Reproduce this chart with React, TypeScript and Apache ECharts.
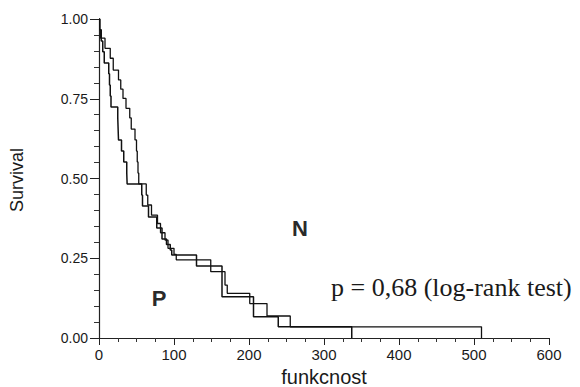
import React, { useEffect, useRef } from "react";
import * as echarts from "echarts";

// Kaplan-Meier step points: [time, survival] (survival drops at that time)
const groupPTimes = [0, 1, 3, 5, 7, 13, 14, 15, 16, 25, 25.5, 26, 30, 33, 37, 37.5, 57, 58, 66, 77, 84, 90, 95, 97, 130, 164, 206, 239, 337];
const groupPSurvival = [1.0, 0.966, 0.931, 0.897, 0.862, 0.828, 0.793, 0.759, 0.724, 0.69, 0.655, 0.621, 0.586, 0.552, 0.517, 0.483, 0.448, 0.414, 0.379, 0.345, 0.31, 0.293, 0.276, 0.26, 0.226, 0.129, 0.067, 0.035, 0];

const groupNTimes = [0, 1, 2, 8, 15, 19, 26, 29, 32, 36, 41, 43, 48, 50, 51, 52, 53, 63, 65, 70, 78, 82, 88, 92, 100, 103, 149, 168, 171, 201, 224, 255, 510];
const groupNSurvival = [1.0, 0.966, 0.94, 0.908, 0.877, 0.84, 0.809, 0.78, 0.751, 0.72, 0.69, 0.655, 0.621, 0.586, 0.552, 0.517, 0.483, 0.448, 0.417, 0.385, 0.359, 0.33, 0.307, 0.281, 0.262, 0.245, 0.208, 0.166, 0.14, 0.108, 0.069, 0.035, 0];

const xTicks = [0, 100, 200, 300, 400, 500, 600];
const yTicks = [0, 0.25, 0.5, 0.75, 1.0];

const labelN = "N";
const labelP = "P";
const pValueText = "p = 0,68 (log-rank test)";
const xTitle = "funkcnost";
const yTitle = "Survival";

export default function App() {
  const ref = useRef<HTMLDivElement>(null);
  useEffect(() => {
    if (!ref.current) return;
    const chart = echarts.init(ref.current, null, { renderer: "svg" });
    const sans = "Liberation Sans, Arial, sans-serif";
    const serif = "Liberation Serif, Times New Roman, serif";
    const pData = groupPTimes.map((t, i) => [t, groupPSurvival[i]]);
    const nData = groupNTimes.map((t, i) => [t, groupNSurvival[i]]);
    chart.setOption({
      animation: false,
      backgroundColor: "#ffffff",
      grid: { left: 99, right: 31, top: 19, bottom: 49, containLabel: false },
      xAxis: {
        type: "value",
        min: xTicks[0],
        max: xTicks[xTicks.length - 1],
        interval: 100,
        axisLine: { show: true, lineStyle: { color: "#222", width: 1.2 } },
        axisTick: { show: true, inside: false, length: 7, lineStyle: { color: "#222" } },
        minorTick: { show: true, splitNumber: 4, length: 4, lineStyle: { color: "#333" } },
        axisLabel: { fontFamily: sans, fontSize: 15, color: "#1a1a1a", margin: 9 },
        splitLine: { show: false },
      },
      yAxis: {
        type: "value",
        min: yTicks[0],
        max: yTicks[yTicks.length - 1],
        interval: 0.25,
        axisLine: { show: true, lineStyle: { color: "#222", width: 1.2 } },
        axisTick: { show: true, inside: false, length: 9, lineStyle: { color: "#222" } },
        minorTick: { show: true, splitNumber: 5, length: 5, lineStyle: { color: "#333" } },
        axisLabel: {
          fontFamily: sans,
          fontSize: 14,
          color: "#1a1a1a",
          margin: 11,
          formatter: (v: number) => v.toFixed(2),
        },
        splitLine: { show: false },
      },
      series: [
        {
          name: "P",
          type: "line",
          step: "end",
          symbol: "none",
          data: pData,
          lineStyle: { color: "#111", width: 1.5 },
        },
        {
          name: "N",
          type: "line",
          step: "end",
          symbol: "none",
          data: nData,
          lineStyle: { color: "#111", width: 1.3 },
        },
      ],
      graphic: [
        {
          type: "text",
          x: 324,
          y: 377,
          style: { text: xTitle, fontFamily: sans, fontSize: 20, fill: "#1a1a1a", textAlign: "center", textVerticalAlign: "middle" },
        },
        {
          type: "text",
          x: 17,
          y: 180,
          rotation: Math.PI / 2,
          style: { text: yTitle, fontFamily: sans, fontSize: 18, fill: "#1a1a1a", textAlign: "center", textVerticalAlign: "middle" },
        },
        {
          type: "text",
          x: 300,
          y: 228,
          style: { text: labelN, fontFamily: sans, fontWeight: "bold", fontSize: 22, fill: "#2a2a2a", textAlign: "center", textVerticalAlign: "middle" },
        },
        {
          type: "text",
          x: 159,
          y: 298,
          style: { text: labelP, fontFamily: sans, fontWeight: "bold", fontSize: 22, fill: "#2a2a2a", textAlign: "center", textVerticalAlign: "middle" },
        },
        {
          type: "text",
          x: 331,
          y: 287,
          style: { text: pValueText, fontFamily: serif, fontSize: 26, fill: "#1a1a1a", textAlign: "left", textVerticalAlign: "middle" },
        },
      ],
    });
    return () => chart.dispose();
  }, []);
  return <div ref={ref} style={{ width: 580, height: 387, position: "absolute", left: 0, top: 0 }} />;
}
